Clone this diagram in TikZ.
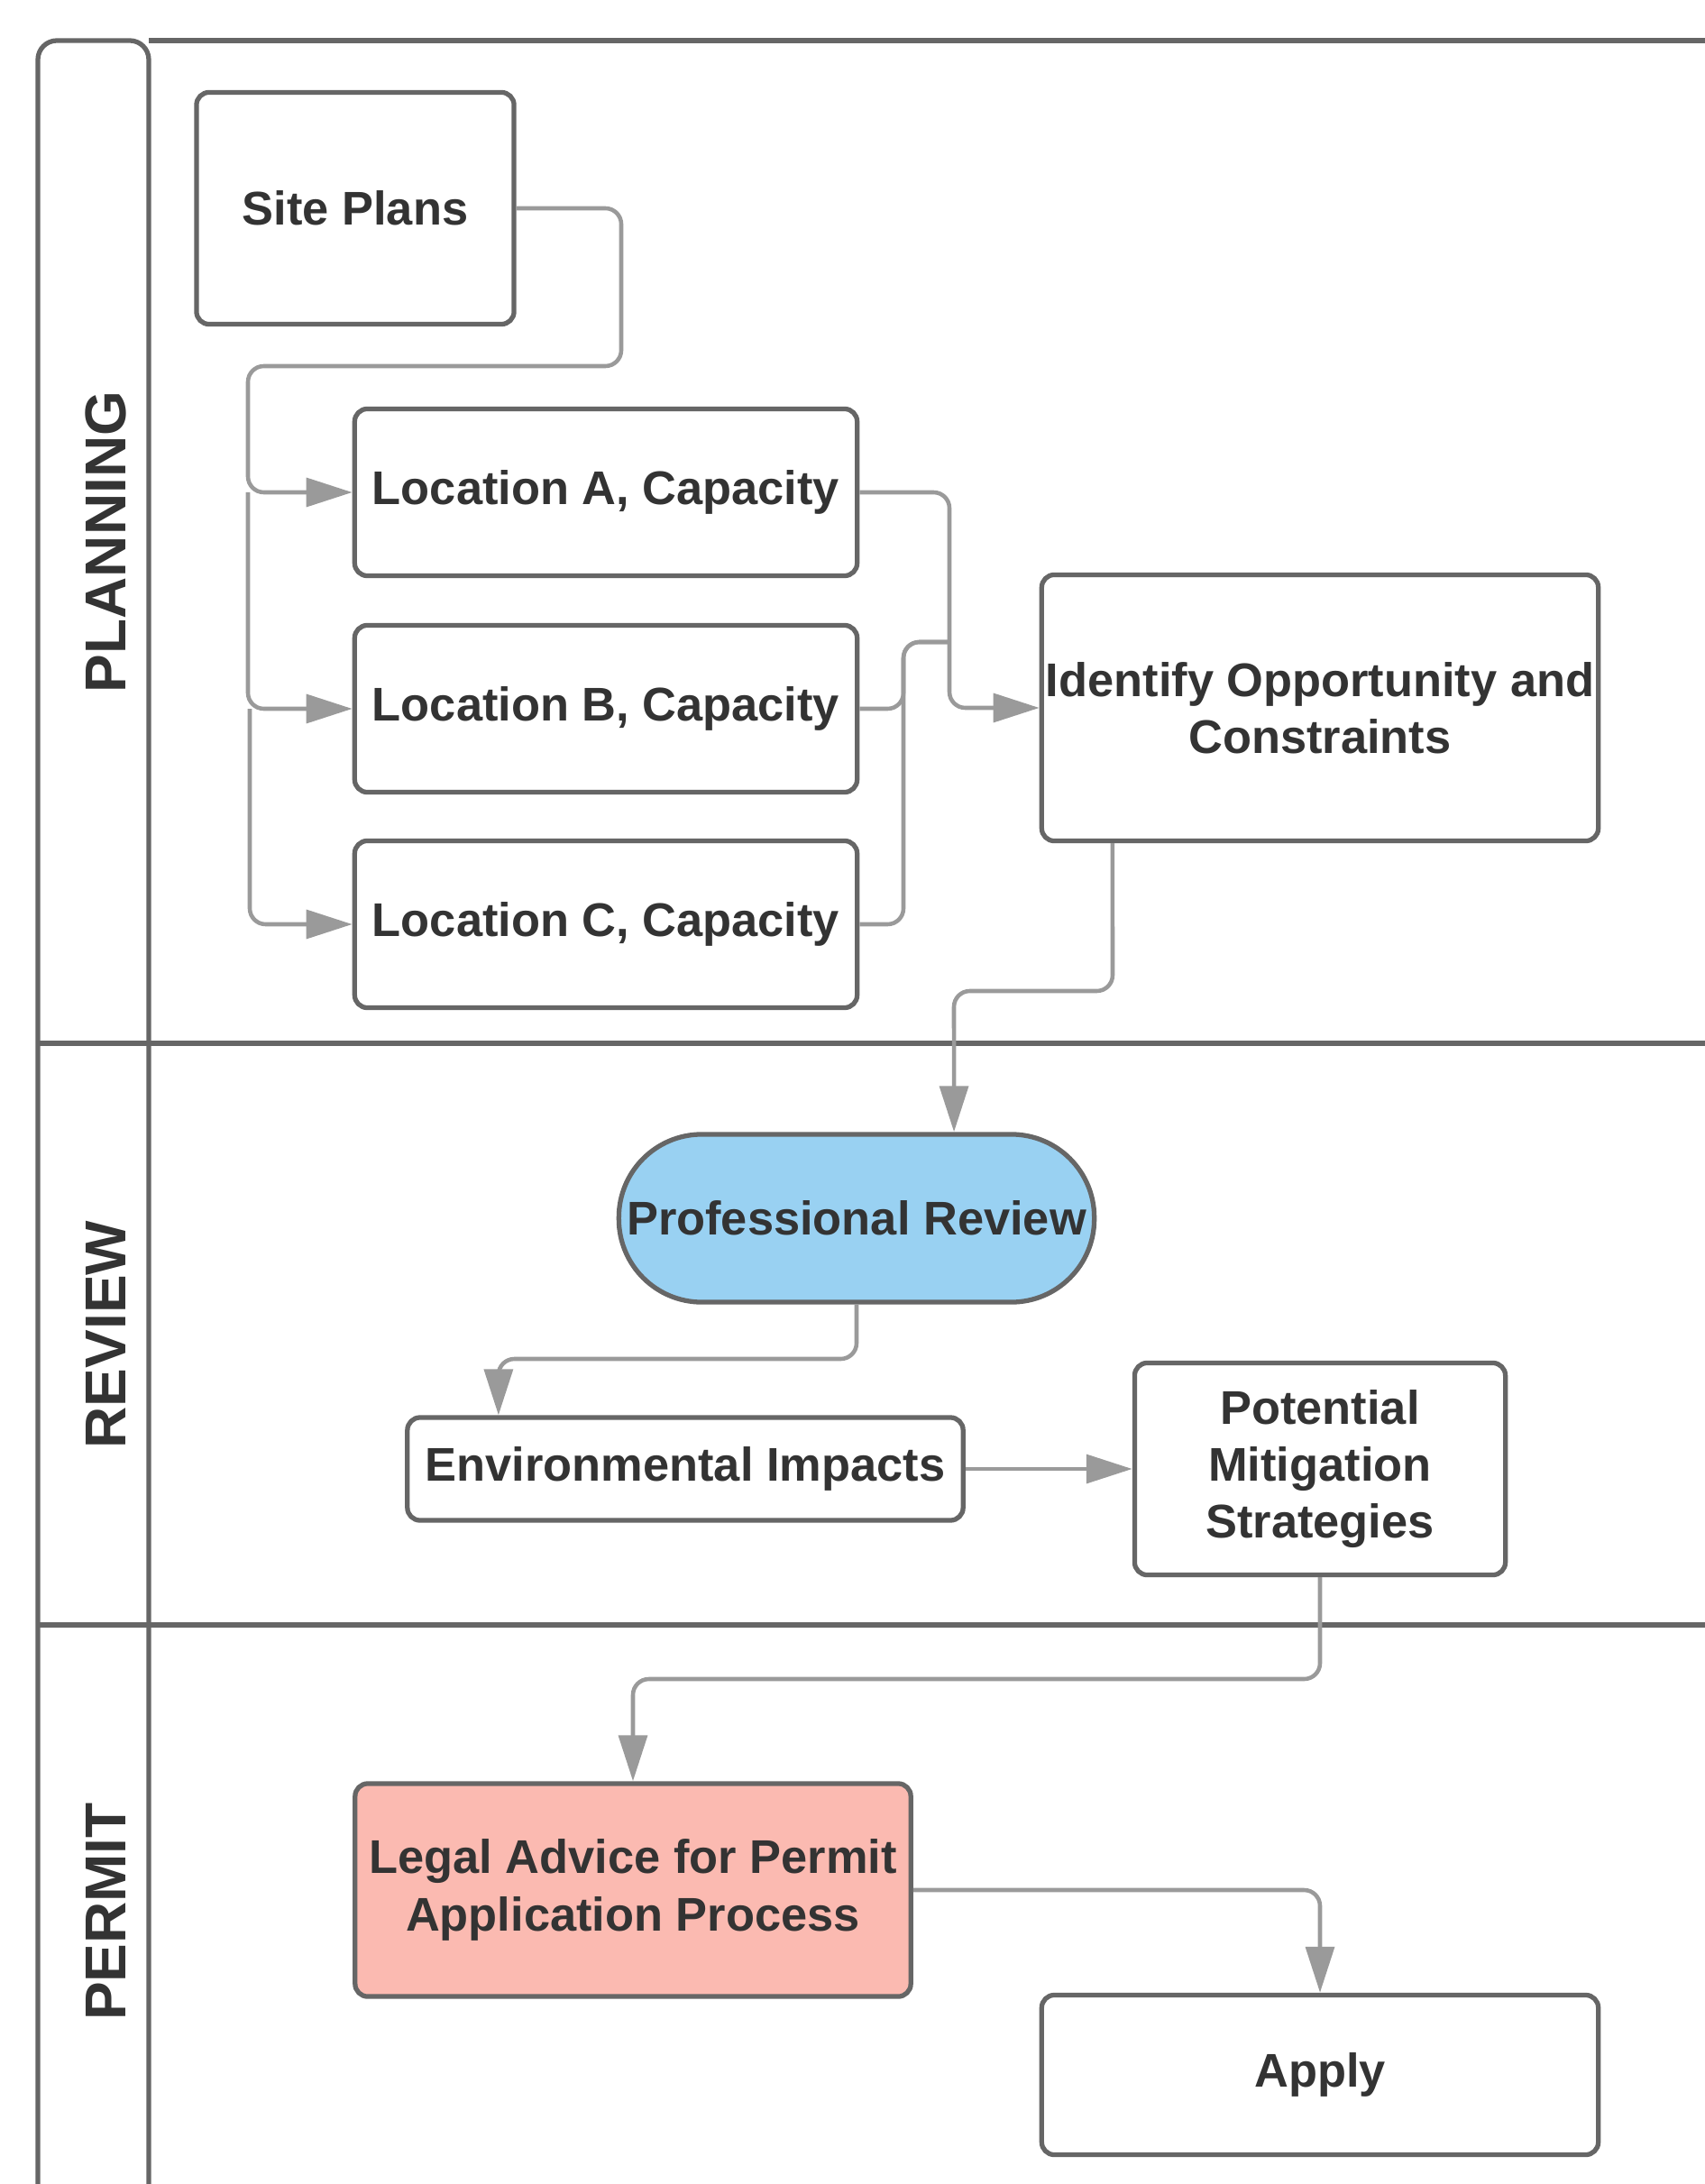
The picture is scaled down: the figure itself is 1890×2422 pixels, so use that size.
\documentclass[tikz,border=0pt]{standalone}
\usepackage{fontspec}
\setmainfont{Liberation Sans}
\usetikzlibrary{arrows.meta}

\definecolor{boxline}{HTML}{666666}
\definecolor{connline}{HTML}{9A9A9A}
\definecolor{txt}{HTML}{333333}
\definecolor{reviewblue}{HTML}{99D1F2}
\definecolor{permitpink}{HTML}{FBBAB1}

\begin{document}
\begin{tikzpicture}[x=0.01cm, y=-0.01cm,
  box/.style={draw=boxline, line width=1.5pt, rounded corners=4pt, fill=white,
    text=txt, font=\fontsize{14.9}{18}\selectfont\bfseries, align=center, inner sep=0pt},
  conn/.style={draw=connline, line width=1.3pt, rounded corners=5pt},
  arr/.style={conn, -{Triangle[length=14.5pt,width=9pt]}},
  lane/.style={draw=boxline, line width=1.5pt},
  lanelabel/.style={rotate=90, text=txt, font=\fontsize{18.2}{22}\selectfont\bfseries}]

\useasboundingbox (0,0) rectangle (1890,2422);

% swimlane frame
\draw[lane, rounded corners=6pt] (42,2440) -- (42,45) -- (165,45) -- (165,2440);
\draw[lane] (165,45) -- (1900,45);
\draw[lane] (42,1157) -- (1900,1157);
\draw[lane] (42,1802) -- (1900,1802);

\node[lanelabel] (lplan) at (117,601) {PLANNING};
\node[lanelabel] (lrev) at (117,1480) {REVIEW};
\node[lanelabel] (lperm) at (117,2120) {PERMIT};

% planning
\node[box, minimum width=3.52cm, minimum height=2.57cm] (sp) at (394,231) {Site Plans};
\node[box, minimum width=5.57cm, minimum height=1.85cm] (locA) at (672,546) {Location A, Capacity};
\node[box, minimum width=5.57cm, minimum height=1.85cm] (locB) at (672,786) {Location B, Capacity};
\node[box, minimum width=5.57cm, minimum height=1.85cm] (locC) at (672,1025) {Location C, Capacity};
\node[box, minimum width=6.17cm, minimum height=2.95cm] (id) at (1464,785) {Identify Opportunity and\\Constraints};

% review
\node[box, fill=reviewblue, minimum width=5.27cm, minimum height=1.86cm, rounded corners=0.92cm] (pr) at (950,1351) {Professional Review};
\node[box, minimum width=6.16cm, minimum height=1.14cm] (env) at (760,1629) {Environmental Impacts};
\node[box, minimum width=4.11cm, minimum height=2.35cm] (pms) at (1464,1629) {Potential\\Mitigation\\Strategies};

% permit
\node[box, fill=permitpink, minimum width=6.16cm, minimum height=2.36cm] (legal) at (702,2096) {Legal Advice for Permit\\Application Process};
\node[box, minimum width=6.17cm, minimum height=1.77cm] (apply) at (1464,2301) {Apply};

% connectors
\draw[arr] (sp.east) -- (689,231) -- (689,406) -- (275,406) |- (locA.west);
\draw[arr] (275,546) |- (locB.west);
\draw[arr] (277,786) |- (locC.west);

\draw[arr] (locA.east) -- (1053,546) |- (id.west);
\draw[conn] (locB.east) -- (1002,786) -- (1002,712) -- (1053,712);
\draw[conn] (locC.east) -- (1002,1025) -- (1002,712) -- (1053,712);

\draw[arr] ([xshift=-2.3cm]id.south) -- (1234,1099) -- (1058,1099) -- ([xshift=1.08cm]pr.north);
\draw[arr] (pr.south) -- (950,1507) -| ([xshift=-2.07cm]env.north);
\draw[arr] (env.east) -- (pms.west);
\draw[arr] (pms.south) -- (1464,1862) -| (legal.north);
\draw[arr] (legal.east) -| (apply.north);

\end{tikzpicture}
\end{document}
